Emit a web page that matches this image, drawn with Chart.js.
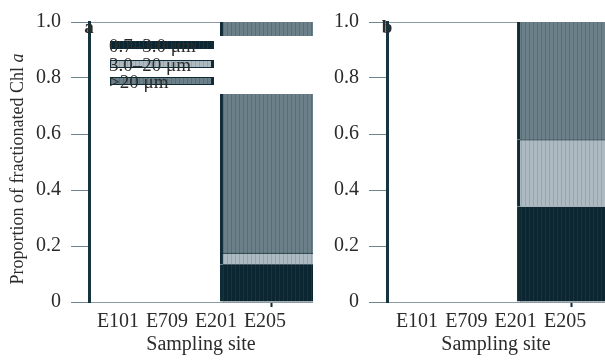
<!DOCTYPE html>
<html>
<head>
<meta charset="utf-8">
<script src="https://cdn.jsdelivr.net/npm/chart.js@4"></script>
<style>
body { margin: 0; background: #fff; }
#wrap { display: flex; width: 605px; height: 362px; }
.panel { position: relative; height: 362px; }
</style>
</head>
<body>
<div id="wrap">
  <div class="panel" style="width:318px"><canvas id="chartA"></canvas></div>
  <div class="panel" style="width:287px"><canvas id="chartB"></canvas></div>
</div>
<script>
// ====== DATOS ======
const sites = ["E101", "E709", "E201", "E205"];
const sizeClasses = ["0.7\u20133.0 \u03bcm", "3.0\u201320 \u03bcm", ">20 \u03bcm"];
const barSite = 4.25;               // posición de la barra en el eje x
const fracA = [0.135, 0.04, 0.825]; // panel a: pico, nano, micro
const fracB = [0.34, 0.24, 0.42];   // panel b
const yTicks = [0, 0.2, 0.4, 0.6, 0.8, 1.0];

const FONT = "'Liberation Serif', 'DejaVu Serif', serif";
const TEXT = "#2b2b2b";
const EDGE = "#0f2b36";

function stripes(base, line) {
    const c = document.createElement("canvas");
    c.width = 4; c.height = 4;
    const g = c.getContext("2d");
    g.fillStyle = base; g.fillRect(0, 0, 4, 4);
    g.fillStyle = line; g.fillRect(3, 0, 1, 4);
    return g.createPattern(c, "repeat");
}

const fills = [
    stripes("#0c2631", "#133440"),
    stripes("#adbac1", "#97a6ad"),
    stripes("#6c8089", "#5a6e78")
];
const borders = [
    { left: 3, top: 0, right: 0, bottom: 0 },
    { left: 3, top: 1, right: 0, bottom: 0 },
    { left: 3, top: 0, right: 0, bottom: 0 }
];

function makeDatasets(values, thickness) {
    return sizeClasses.map((name, i) => ({
        label: name,
        data: [{ x: barSite, y: values[i] }],
        backgroundColor: fills[i],
        borderColor: EDGE,
        borderWidth: borders[i],
        borderSkipped: false,
        barThickness: thickness,
        clip: 0
    }));
}

// ====== PLUGINS ======
const panelLabel = {
    id: "panelLabel",
    afterDraw(chart, args, opts) {
        const ctx = chart.ctx;
        ctx.save();
        ctx.font = "bold 19px " + FONT;
        ctx.fillStyle = TEXT;
        ctx.textAlign = "center";
        ctx.textBaseline = "alphabetic";
        ctx.fillText(opts.text, chart.chartArea.left, 33);
        ctx.restore();
    }
};

const yTitle = {
    id: "yTitle",
    afterDraw(chart, args, opts) {
        if (!opts.show) return;
        const ctx = chart.ctx;
        const a = "Proportion of fractionated Chl ";
        const b = "a";
        ctx.save();
        ctx.translate(18, 169);
        ctx.rotate(-Math.PI / 2);
        ctx.fillStyle = TEXT;
        ctx.textBaseline = "middle";
        ctx.font = "18px " + FONT;
        const wa = ctx.measureText(a).width;
        ctx.font = "italic 18px " + FONT;
        const wb = ctx.measureText(b).width;
        const x0 = -(wa + wb) / 2;
        ctx.font = "18px " + FONT;
        ctx.fillText(a, x0, 0);
        ctx.font = "italic 18px " + FONT;
        ctx.fillText(b, x0 + wa, 0);
        ctx.restore();
    }
};

const boxLegend = {
    id: "boxLegend",
    afterDraw(chart, args, opts) {
        if (!opts.show) return;
        const ctx = chart.ctx;
        const area = chart.chartArea;
        ctx.save();
        ctx.fillStyle = "#fff";
        ctx.fillRect(100, 36, area.right - 100, 58);
        const tops = [41, 60, 77];
        chart.data.datasets.forEach((ds, i) => {
            const y = tops[i];
            ctx.fillStyle = ds.backgroundColor;
            ctx.fillRect(110, y, 104, 8);
            if (i > 0) {
                ctx.strokeStyle = EDGE;
                ctx.lineWidth = 1;
                ctx.strokeRect(110.5, y + 0.5, 103, 7);
            }
            ctx.fillStyle = EDGE;
            ctx.fillRect(211, y, 3, 8);
            ctx.fillStyle = TEXT;
            ctx.font = "19px " + FONT;
            ctx.textBaseline = "alphabetic";
            ctx.fillText(ds.label, 109, y + 11);
        });
        ctx.restore();
    }
};

// ====== GRÁFICOS ======
function makeOptions(cfg) {
    return {
        responsive: true,
        maintainAspectRatio: false,
        animation: false,
        layout: { padding: { top: 17, right: cfg.padRight, left: 0, bottom: 0 } },
        plugins: {
            legend: { display: false },
            tooltip: { enabled: false },
            panelLabel: { text: cfg.label },
            yTitle: { show: cfg.title },
            boxLegend: { show: cfg.legend }
        },
        scales: {
            x: {
                type: "linear",
                stacked: true,
                offset: false,
                min: cfg.xMin,
                max: cfg.xMax,
                afterBuildTicks: s => {
                    s.ticks = sites.map((_, i) => ({ value: i + 1 })).concat([{ value: barSite }]);
                },
                ticks: {
                    autoSkip: false,
                    maxRotation: 0,
                    padding: 3,
                    color: TEXT,
                    font: { family: FONT, size: 20 },
                    callback: (v, i) => (i < sites.length ? sites[i] : "")
                },
                grid: {
                    drawOnChartArea: false,
                    drawTicks: true,
                    tickLength: 5,
                    tickWidth: 2,
                    tickColor: c => (c.index === sites.length ? EDGE : "rgba(0,0,0,0)")
                },
                border: { display: false },
                title: {
                    display: true,
                    text: "Sampling site",
                    color: TEXT,
                    font: { family: FONT, size: 20 },
                    padding: { top: 0, bottom: 5 }
                },
                afterFit: s => { s.height = 60; }
            },
            y: {
                stacked: true,
                min: yTicks[0],
                max: yTicks[yTicks.length - 1],
                afterBuildTicks: s => { s.ticks = yTicks.map(v => ({ value: v })); },
                ticks: {
                    padding: 10,
                    color: TEXT,
                    font: { family: FONT, size: 20 },
                    callback: v => (v === 0 ? "0" : v.toFixed(1))
                },
                grid: {
                    color: c => (c.tick && (c.tick.value === 0 || c.tick.value === 1) ? "#8c9ca4" : "rgba(0,0,0,0)"),
                    tickColor: "#6d8591",
                    tickLength: 18,
                    lineWidth: 1
                },
                border: { display: true, color: "#16343f", width: 3 },
                afterFit: s => { s.width = cfg.yWidth; }
            }
        }
    };
}

document.addEventListener("DOMContentLoaded", () => {
    new Chart(document.getElementById("chartA"), {
        type: "bar",
        data: { datasets: makeDatasets(fracA, 114) },
        options: makeOptions({ label: "a", title: true, legend: true, yWidth: 89, padRight: 5, xMin: 0.408, xMax: 4.98 }),
        plugins: [panelLabel, yTitle, boxLegend]
    });

    new Chart(document.getElementById("chartB"), {
        type: "bar",
        data: { datasets: makeDatasets(fracB, 120) },
        options: makeOptions({ label: "b", title: false, legend: false, yWidth: 69, padRight: 0, xMin: 0.392, xMax: 4.81 }),
        plugins: [panelLabel, yTitle, boxLegend]
    });
});
</script>
</body>
</html>
